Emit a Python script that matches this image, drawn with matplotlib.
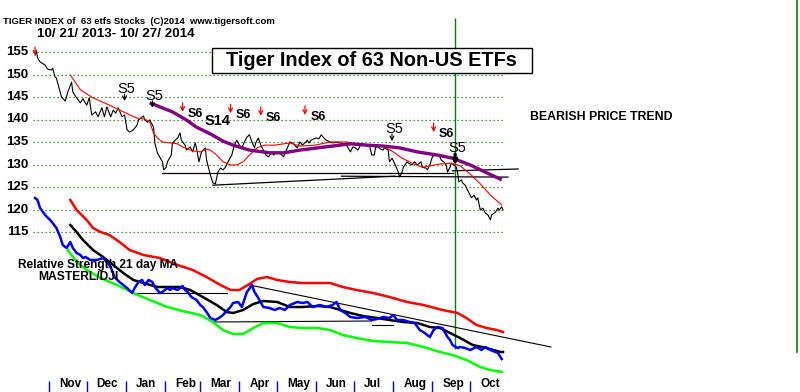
import matplotlib
matplotlib.use("Agg")
import matplotlib.pyplot as plt
from matplotlib.patches import Rectangle
from matplotlib.lines import Line2D

plt.rcParams['font.family'] = ['Liberation Sans', 'DejaVu Sans']

# ---------------- data (x = calendar days since 2013-10-21) ----------------
price_day = [0, 1, 2, 4, 8, 10, 13, 14, 16, 17,
             18, 21, 24, 26, 29, 30, 33, 36, 38, 41,
             43, 45, 48, 50, 53, 55, 57, 60, 62, 64,
             66, 69, 71, 73, 75, 78, 81, 82, 86, 87,
             89, 91, 94, 95, 97, 101, 102, 104, 105, 108,
             109, 113, 115, 116, 119, 120, 123, 125, 127, 128,
             130, 132, 135, 136, 139, 141, 143, 144, 145, 147,
             149, 151, 153, 156, 158, 160, 162, 164, 166, 168,
             170, 172, 174, 175, 177, 179, 181, 183, 185, 188,
             189, 192, 194, 197, 200, 202, 204, 208, 210, 212,
             216, 217, 219, 221, 223, 225, 227, 229, 231, 234,
             236, 239, 242, 244, 247, 250, 252, 254, 256, 258,
             261, 263, 265, 267, 269, 270, 272, 274, 276, 277,
             280, 281, 283, 285, 288, 289, 291, 292, 295, 296,
             299, 301, 303, 306, 307, 310, 311, 313, 315, 317,
             319, 321, 322, 324, 326, 327, 329, 330, 332, 334,
             335, 336, 338, 339, 341, 343, 345, 346, 348, 350,
             351, 353, 355, 357, 359, 361, 362, 365, 367, 368,
             370, 371]
price_close = [154.3, 155.4, 153.7, 152.8, 152.1, 151.2, 151.0, 151.4, 149.4, 149.2,
               148.1, 145.0, 144.1, 146.1, 148.3, 146.1, 144.8, 143.7, 144.6, 143.2,
               144.8, 141.0, 141.7, 140.6, 142.6, 140.6, 142.8, 140.6, 142.1, 141.4,
               142.6, 140.6, 141.0, 137.7, 137.2, 137.7, 138.8, 139.9, 140.8, 139.9,
               139.4, 139.9, 138.3, 134.8, 132.6, 130.6, 128.8, 129.4, 130.6, 132.1,
               134.8, 135.9, 137.0, 135.4, 134.3, 133.2, 133.9, 132.8, 134.8, 133.7,
               130.6, 132.8, 133.7, 131.0, 127.7, 125.9, 125.7, 127.0, 128.3, 129.2,
               128.8, 129.4, 130.6, 132.1, 134.3, 135.4, 134.3, 133.7, 135.0, 136.1,
               136.6, 135.0, 133.7, 134.8, 135.9, 134.3, 133.2, 132.1, 131.7, 132.8,
               132.1, 132.8, 132.6, 131.7, 133.7, 135.0, 134.8, 133.7, 135.0, 134.3,
               135.4, 134.8, 135.4, 135.7, 135.9, 135.7, 136.6, 135.9, 135.4, 135.0,
               134.8, 135.0, 134.8, 134.6, 134.3, 132.8, 133.9, 133.7, 133.2, 134.3,
               134.6, 134.1, 134.3, 132.1, 132.1, 133.9, 133.9, 133.4, 133.2, 133.7,
               133.2, 130.6, 131.4, 130.3, 128.3, 127.2, 128.3, 129.4, 130.6, 130.3,
               129.9, 130.6, 129.9, 130.6, 129.4, 129.2, 128.8, 129.9, 131.7, 132.1,
               132.1, 131.7, 131.0, 130.6, 129.9, 128.3, 129.4, 130.3, 129.9, 129.4,
               128.3, 126.1, 126.6, 125.9, 125.4, 124.3, 123.2, 122.6, 123.2, 122.1,
               122.6, 119.9, 120.3, 119.2, 118.8, 117.7, 118.8, 119.4, 120.3, 119.9,
               120.6, 119.9]

ma21_day = [28, 36, 46, 59, 70, 81, 87, 91, 94, 97,
            101, 107, 113, 117, 125, 131, 136, 139, 144, 149,
            155, 160, 165, 170, 176, 182, 190, 202, 210, 222,
            234, 247, 258, 276, 284, 291, 299, 307, 313, 321,
            330, 337, 345, 353, 361, 370]
ma21_val = [149.9, 146.6, 144.8, 143.2, 141.7, 140.3, 140.1, 139.4, 137.0, 135.9,
            135.0, 134.8, 134.6, 133.9, 133.0, 132.8, 133.4, 133.2, 132.1, 130.6,
            129.9, 129.9, 130.6, 132.1, 133.7, 134.3, 134.3, 134.8, 134.1, 134.3,
            135.0, 135.0, 134.3, 134.1, 132.8, 131.4, 130.3, 129.4, 129.7, 130.1,
            130.3, 129.7, 127.9, 125.7, 123.2, 121.0]

ma65_day = [91, 99, 109, 120, 128, 139, 149, 157, 170, 186,
            197, 210, 224, 236, 250, 263, 276, 289, 303, 319,
            331, 345, 357, 370]
ma65_val = [143.7, 142.8, 141.7, 139.9, 138.3, 136.8, 135.2, 134.3, 133.2, 132.6,
            132.6, 133.2, 133.7, 134.1, 134.6, 134.3, 134.1, 133.7, 132.8, 132.1,
            131.4, 129.9, 128.3, 126.6]

support_day = [(101, 331), (141, 285), (243, 375), (331, 383)]
support_val = [(128.1, 128.1), (125.4, 127.4), (127.4, 127.2), (128.6, 129.0)]

rs_day = [0, 2, 4, 8, 12, 14, 17, 20, 22, 25,
          28, 30, 33, 36, 38, 40, 44, 49, 54, 57,
          60, 63, 67, 73, 77, 79, 82, 85, 87, 90,
          93, 95, 99, 101, 105, 107, 109, 113, 117, 119,
          121, 124, 128, 131, 133, 136, 139, 143, 147, 149,
          155, 157, 161, 164, 168, 172, 174, 177, 181, 186,
          190, 194, 198, 202, 208, 212, 216, 220, 226, 231,
          236, 239, 242, 246, 250, 255, 262, 267, 271, 276,
          281, 284, 287, 292, 297, 301, 305, 309, 313, 316,
          319, 323, 327, 329, 331, 335, 337, 341, 345, 350,
          354, 357, 361, 365, 367, 370]
rs_val = [2.02, 2.00, 1.92, 1.85, 1.80, 1.77, 1.72, 1.63, 1.55, 1.52,
          1.58, 1.52, 1.47, 1.45, 1.42, 1.43, 1.40, 1.40, 1.42, 1.38,
          1.33, 1.23, 1.18, 1.12, 1.07, 1.12, 1.18, 1.20, 1.15, 1.20,
          1.18, 1.13, 1.07, 1.08, 1.12, 1.10, 1.12, 1.10, 1.14, 1.10,
          1.08, 1.03, 1.00, 0.95, 0.93, 0.88, 0.82, 0.80, 0.83, 0.85,
          0.93, 0.97, 0.98, 0.93, 1.08, 1.15, 1.08, 1.02, 0.93, 0.92,
          0.90, 0.92, 0.90, 0.95, 0.98, 0.97, 0.98, 0.93, 0.95, 0.93,
          0.95, 0.98, 0.90, 0.87, 0.83, 0.82, 0.83, 0.80, 0.81, 0.83,
          0.82, 0.85, 0.80, 0.80, 0.78, 0.77, 0.70, 0.67, 0.63, 0.70,
          0.73, 0.72, 0.63, 0.60, 0.55, 0.52, 0.53, 0.52, 0.50, 0.53,
          0.50, 0.53, 0.50, 0.48, 0.47, 0.41]

rs_upper_day = [28, 33, 41, 46, 52, 59, 67, 75, 86, 99,
                113, 125, 136, 147, 155, 162, 170, 176, 184, 192,
                202, 212, 224, 234, 244, 255, 268, 281, 295, 308,
                323, 335, 342, 350, 358, 366, 371]
rs_upper_val = [2.00, 1.90, 1.80, 1.72, 1.68, 1.65, 1.58, 1.50, 1.45, 1.42,
                1.35, 1.30, 1.23, 1.15, 1.10, 1.10, 1.16, 1.21, 1.23, 1.20,
                1.18, 1.17, 1.17, 1.17, 1.13, 1.10, 1.07, 1.03, 0.98, 0.95,
                0.90, 0.87, 0.82, 0.75, 0.72, 0.70, 0.68]

rs_ma_day = [28, 33, 38, 46, 54, 62, 70, 78, 86, 97,
             107, 115, 123, 133, 144, 152, 157, 165, 173, 181,
             192, 202, 212, 224, 234, 242, 250, 260, 271, 281,
             292, 303, 313, 321, 329, 337, 347, 358, 369, 371]
rs_ma_val = [1.75, 1.68, 1.60, 1.50, 1.43, 1.35, 1.27, 1.20, 1.17, 1.13,
             1.13, 1.13, 1.10, 1.03, 0.95, 0.88, 0.87, 0.90, 0.96, 0.99,
             0.98, 0.93, 0.93, 0.94, 0.93, 0.90, 0.87, 0.84, 0.82, 0.80,
             0.78, 0.77, 0.73, 0.72, 0.67, 0.62, 0.55, 0.52, 0.48, 0.48]

rs_lower_day = [26, 33, 41, 52, 65, 78, 91, 105, 117, 131,
                141, 149, 157, 165, 173, 181, 192, 202, 212, 224,
                234, 244, 255, 268, 281, 295, 308, 321, 331, 342,
                353, 361, 370]
rs_lower_val = [1.50, 1.38, 1.30, 1.22, 1.15, 1.07, 1.00, 0.93, 0.89, 0.85,
                0.78, 0.70, 0.66, 0.66, 0.72, 0.77, 0.77, 0.73, 0.72, 0.72,
                0.70, 0.65, 0.62, 0.59, 0.58, 0.57, 0.53, 0.48, 0.45, 0.40,
                0.33, 0.30, 0.28]

rs_trend_day = [(170, 409), (77, 152), (141, 267), (267, 284)]
rs_trend_val = [(1.15, 0.53), (1.07, 1.07), (0.78, 0.79), (0.75, 0.75)]

grid_levels = [155, 150, 145, 140, 135, 130, 125, 120, 115]
month_labels = ['Nov', 'Dec', 'Jan', 'Feb', 'Mar', 'Apr', 'May', 'Jun',
                'Jul', 'Aug', 'Sep', 'Oct']
month_start_day = [11, 41, 72, 103, 131, 162, 192, 223, 253, 284, 315, 345]

s5_day = [71, 93, 283, 333]
s5_price = [144.1, 142.6, 135.2, 129.9]
s6_day = [117, 155, 179, 214, 316]
s6_price = [141.7, 141.4, 140.8, 141.0, 137.2]
s14_day = [145]
s14_price = [139.6]
marker_day = 333          # vertical line date (Sep)

# ---------------- layout ----------------
W, H = 800, 392
X0, PXD = 35.0, 468.0 / 371.0     # pixel of day 0, pixels per day
Y155, PXU = 52.0, 4.5             # pixel of 155, pixels per point

fig = plt.figure(figsize=(W / 100, H / 100), dpi=100)
fig.patch.set_facecolor('white')
ax = fig.add_axes([0, 0, 1, 1])
ax.set_xlim(-X0 / PXD, (W - X0) / PXD)
ax.set_ylim(155 - (H - Y155) / PXU, 155 + Y155 / PXU)
ax.axis('off')
ax2 = ax.twinx()
ax2.set_position([0, 0, 1, 1])
ax2.set_ylim(0.08, 4.0)
ax2.axis('off')


def py2p(py):
    return 155 - (py - Y155) / PXU


def px2d(px):
    return (px - X0) / PXD


# grid lines
ax.hlines(grid_levels, px2d(33), px2d(504), colors='#008000', lw=0.9,
          linestyles=(0, (1, 2.2)), zorder=1)
for lv in grid_levels:
    fig.text(28 / W, 1 - (Y155 + (155 - lv) * PXU) / H, str(lv), ha='right',
             va='center', fontsize=9.5, fontweight='bold')

# vertical marker lines
ax.vlines(marker_day, py2p(349), py2p(18), colors='#008000', lw=1.0, zorder=2)
fig.add_artist(Line2D([797 / W, 797 / W], [1, 1 - 352 / H], color='#008000', lw=1.2,
                      transform=fig.transFigure))

# support lines
for (d0, d1), (v0, v1) in zip(support_day, support_val):
    ax.plot([d0, d1], [v0, v1], color='black', lw=0.9, zorder=3)

# price panel lines
ax.plot(price_day, price_close, color='black', lw=0.8, zorder=4)
ax.plot(ma21_day, ma21_val, color='#ff0000', lw=0.8, zorder=5)
ax.plot(ma65_day, ma65_val, color='#800080', lw=2.4, zorder=6,
        solid_capstyle='butt')

# lower panel
for (d0, d1), (v0, v1) in zip(rs_trend_day, rs_trend_val):
    ax2.plot([d0, d1], [v0, v1], color='black', lw=0.8, zorder=3)
ax2.plot(rs_lower_day, rs_lower_val, color='#00ff00', lw=1.8, zorder=4)
ax2.plot(rs_upper_day, rs_upper_val, color='#ff0000', lw=1.8, zorder=4)
ax2.plot(rs_ma_day, rs_ma_val, color='black', lw=1.8, zorder=5)
ax2.plot(rs_day, rs_val, color='#0000ff', lw=1.8, zorder=6)

# signals
for i, (d, p) in enumerate(zip(s5_day, s5_price)):
    big = (i == len(s5_day) - 1)
    ax.annotate('', xy=(d, p), xytext=(0, 11 if big else 7), textcoords='offset pixels',
                arrowprops=dict(arrowstyle='-|>' if big else '->', color='black',
                                lw=2.2 if big else 0.8, shrinkA=0, shrinkB=0,
                                mutation_scale=6 if big else 7), zorder=8)
    ax.annotate('S5', xy=(d, p), xytext=(2, 17 if big else 12), textcoords='offset pixels',
                ha='center', va='center', fontsize=10.5, zorder=8)
for d, p in zip(s6_day, s6_price):
    ax.annotate('', xy=(d, p), xytext=(0, 9), textcoords='offset pixels',
                arrowprops=dict(arrowstyle='->', color='#ff0000', lw=0.9,
                                shrinkA=0, shrinkB=0, mutation_scale=7), zorder=8)
    ax.annotate('S6', xy=(d, p), xytext=(13, -2), textcoords='offset pixels',
                ha='center', va='center', fontsize=9, fontweight='bold', zorder=8)
for d, p in zip(s14_day, s14_price):
    ax.text(d, p, 'S14', ha='center', va='center', fontsize=10.5, fontweight='bold',
            zorder=8)
ax.annotate('', xy=(price_day[0], price_close[0]), xytext=(0, 8), textcoords='offset pixels',
            arrowprops=dict(arrowstyle='->', color='#ff0000', lw=0.9, shrinkA=0,
                            shrinkB=0, mutation_scale=6), zorder=8)

# month axis
ax.vlines(month_start_day, py2p(392), py2p(381), colors='#0000ff', lw=1.0)
for d, lab in zip(month_start_day, month_labels):
    ax.annotate(lab, xy=(d, py2p(384)), xytext=(10, 0), textcoords='offset pixels',
                ha='left', va='center', fontsize=8.5, fontweight='bold')

# texts
fig.text(3 / W, 1 - 21 / H, 'TIGER INDEX of  63 etfs Stocks  (C)2014  www.tigersoft.com',
         ha='left', va='center', fontsize=6.8, fontweight='bold')
fig.text(37 / W, 1 - 34 / H, '10/ 21/ 2013- 10/ 27/ 2014', ha='left', va='center',
         fontsize=9.6, fontweight='bold')
fig.add_artist(Rectangle((212 / W, 1 - 73 / H), 320 / W, 25 / H, transform=fig.transFigure,
                         facecolor='white', edgecolor='black', lw=1.0, zorder=10))
fig.text(371 / W, 1 - 61 / H, 'Tiger Index of 63 Non-US ETFs', ha='center', va='center',
         fontsize=14.3, fontweight='bold', zorder=11)
fig.text(530 / W, 1 - 117 / H, 'BEARISH PRICE TREND', ha='left', va='center',
         fontsize=8.8, fontweight='bold')
fig.text(18 / W, 1 - 265 / H, 'Relative Strength 21 day MA', ha='left', va='center',
         fontsize=8.6, fontweight='bold', zorder=12)
fig.text(38 / W, 1 - 277 / H, 'MASTERL/DJI', ha='left', va='center',
         fontsize=8.7, fontweight='bold', zorder=12)

fig.savefig('out.png', dpi=100, facecolor='white')
